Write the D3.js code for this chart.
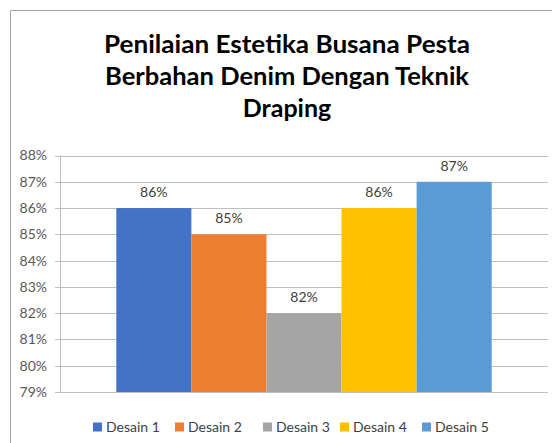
<!DOCTYPE html>
<html>
<head>
<meta charset="utf-8">
<script src="https://cdn.jsdelivr.net/npm/d3@7"></script>
<style>
  body { margin: 0; background: #fff; }
  svg { display: block; }
  text { font-family: Lato, "Open Sans", sans-serif; }
</style>
</head>
<body>
<svg width="552" height="443"></svg>
<script>
const titleLines = ["Penilaian Estetika Busana Pesta", "Berbahan Denim Dengan Teknik", "Draping"];
const series = ["Desain 1", "Desain 2", "Desain 3", "Desain 4", "Desain 5"];
const values = [0.86, 0.85, 0.82, 0.86, 0.87];
const colors = ["#4472C4", "#ED7D31", "#A5A5A5", "#FFC000", "#5B9BD5"];
const yTicks = [0.79, 0.80, 0.81, 0.82, 0.83, 0.84, 0.85, 0.86, 0.87, 0.88];

const svg = d3.select("svg");
const margin = {top: 155.5, left: 60, right: 4, bottom: 51};
const W = +svg.attr("width"), H = +svg.attr("height");

// chart frame
svg.append("path")
  .attr("d", `M10.5,${H + 2}V10.5H${W + 2}`)
  .attr("fill", "none")
  .attr("stroke", "#a6a6a6")
  .attr("stroke-width", 1);

// title
const widths = [366, 364, null];
svg.append("g").selectAll("text")
  .data(titleLines)
  .join("text")
    .attr("x", 287)
    .attr("y", (d, i) => 53 + i * 32)
    .attr("text-anchor", "middle")
    .attr("font-size", 25)
    .attr("font-weight", "bold")
    .attr("fill", "#000")
    .attr("textLength", (d, i) => widths[i])
    .attr("lengthAdjust", "spacingAndGlyphs")
    .text(d => d);

const x = d3.scaleBand()
  .domain(series)
  .range([margin.left, W - margin.right])
  .paddingInner(0)
  .paddingOuter(0.75);

const y = d3.scaleLinear()
  .domain([0.79, 0.88])
  .range([H - margin.bottom, margin.top]);

// gridlines
svg.append("g").selectAll("line")
  .data(yTicks)
  .join("line")
    .attr("x1", margin.left - 5)
    .attr("x2", W - margin.right)
    .attr("y1", d => Math.round(y(d)) + 0.5)
    .attr("y2", d => Math.round(y(d)) + 0.5)
    .attr("stroke", "#bfbfbf");

// y axis line
svg.append("line")
  .attr("x1", margin.left + 0.5).attr("x2", margin.left + 0.5)
  .attr("y1", y(0.88)).attr("y2", y(0.79))
  .attr("stroke", "#bfbfbf");

// y labels
svg.append("g").selectAll("text")
  .data(yTicks)
  .join("text")
    .attr("x", 47)
    .attr("y", d => y(d))
    .attr("dy", "0.35em")
    .attr("text-anchor", "end")
    .attr("font-size", 14)
    .attr("fill", "#595959")
    .text(d => d3.format(".0%")(d));

// bars
svg.append("g").selectAll("rect")
  .data(values)
  .join("rect")
    .attr("x", (d, i) => x(series[i]))
    .attr("width", x.bandwidth())
    .attr("y", d => y(d))
    .attr("height", d => y(0.79) - y(d))
    .attr("fill", (d, i) => colors[i]);

// data labels
svg.append("g").selectAll("text")
  .data(values)
  .join("text")
    .attr("x", (d, i) => x(series[i]) + x.bandwidth() / 2)
    .attr("y", d => y(d) - 16)
    .attr("dy", "0.35em")
    .attr("text-anchor", "middle")
    .attr("font-size", 14)
    .attr("fill", "#404040")
    .text(d => d3.format(".0%")(d));

// legend
const legendX = [93, 175, 263, 340, 422];
const lg = svg.append("g").selectAll("g")
  .data(series)
  .join("g")
    .attr("transform", (d, i) => `translate(${legendX[i]},427)`);
lg.append("rect")
  .attr("x", 0).attr("y", -4.5)
  .attr("width", 9).attr("height", 9)
  .attr("fill", (d, i) => colors[i]);
lg.append("text")
  .attr("x", 13)
  .attr("dy", "0.35em")
  .attr("font-size", 14)
  .attr("fill", "#404040")
  .text(d => d);
</script>
</body>
</html>
